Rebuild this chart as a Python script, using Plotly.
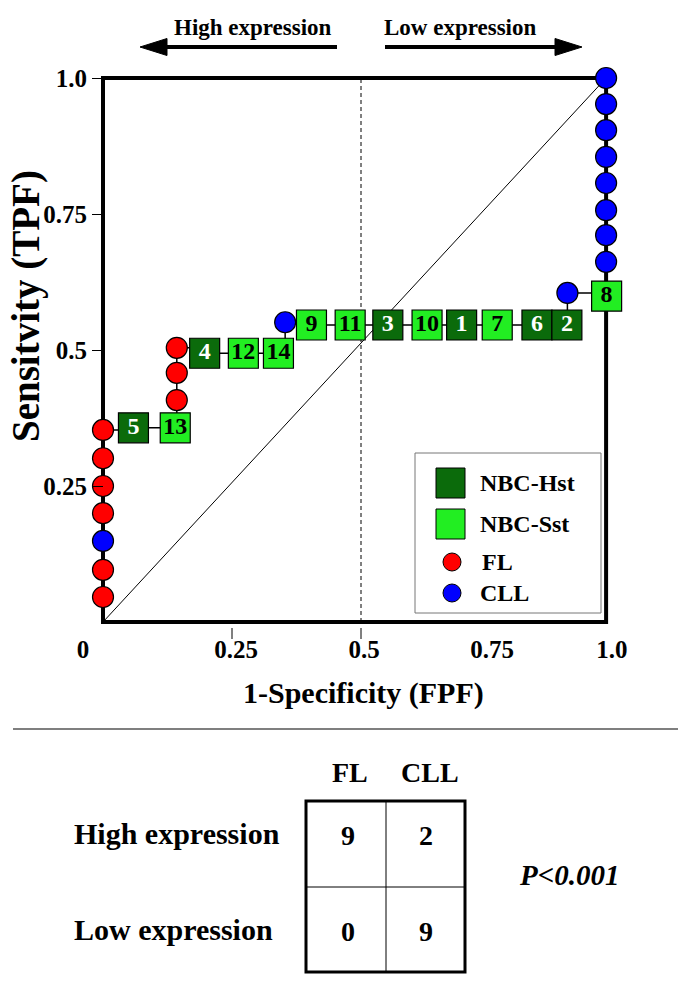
import plotly.graph_objects as go

W, H = 685, 989
FONT = "Liberation Serif, Times New Roman, serif"

# ---------------- data ----------------
# ROC path points (1-specificity, sensitivity) in drawing order
roc_fpf = [0, 0, 0, 0, 0, 0, 0,
           0.059, 0.140,
           0.143, 0.143, 0.143,
           0.197, 0.272, 0.340,
           0.353,
           0.404, 0.479, 0.552, 0.628, 0.695, 0.764, 0.841, 0.899,
           0.900,
           0.976,
           0.975, 0.975, 0.975, 0.975, 0.975, 0.975, 0.975, 0.975]
roc_tpf = [0.046, 0.096, 0.149, 0.200, 0.250, 0.301, 0.353,
           0.357, 0.357,
           0.408, 0.458, 0.504,
           0.494, 0.494, 0.494,
           0.551,
           0.546, 0.546, 0.546, 0.546, 0.546, 0.546, 0.546, 0.546,
           0.605,
           0.599,
           0.662, 0.711, 0.757, 0.807, 0.855, 0.904, 0.952, 1.0]
roc_group = ["FL", "FL", "CLL", "FL", "FL", "FL", "FL",
             "NBC-Hst", "NBC-Sst",
             "FL", "FL", "FL",
             "NBC-Hst", "NBC-Sst", "NBC-Sst",
             "CLL",
             "NBC-Sst", "NBC-Sst", "NBC-Hst", "NBC-Sst", "NBC-Hst", "NBC-Sst", "NBC-Hst", "NBC-Hst",
             "CLL",
             "NBC-Sst",
             "CLL", "CLL", "CLL", "CLL", "CLL", "CLL", "CLL", "CLL"]
roc_label = ["", "", "", "", "", "", "",
             "5", "13",
             "", "", "",
             "4", "12", "14",
             "",
             "9", "11", "3", "10", "1", "7", "6", "2",
             "",
             "8",
             "", "", "", "", "", "", "", ""]

legend_names = ["NBC-Hst", "NBC-Sst", "FL", "CLL"]

y_tickvals = [0.25, 0.5, 0.75, 1.0]
y_ticktext = ["0.25", "0.5", "0.75", "1.0"]
x_ticktext = ["0", "0.25", "0.5", "0.75", "1.0"]

table_cols = ["FL", "CLL"]
table_rows = ["High expression", "Low expression"]
table_counts = [[9, 2], [0, 9]]
p_text = "P&lt;0.001"

# ---------------- styling ----------------
DARK = "#0B6B0B"
LIGHT = "#22EE22"
style = {
    "NBC-Hst": dict(symbol="square", color=DARK, size=30, text="white"),
    "NBC-Sst": dict(symbol="square", color=LIGHT, size=30, text="black"),
    "FL": dict(symbol="circle", color="#FF0000", size=21, text="black"),
    "CLL": dict(symbol="circle", color="#0000FF", size=21, text="black"),
}

# pixel geometry of the plot frame
X0, XS = 103, 516   # pixel of x=0, pixels per unit
Y0, YS = 622, 544   # pixel of y=0, pixels per unit
BOX_R = 0.975       # right edge of the drawn frame (data units)


def px(x):
    return x / W


def py(y):
    return 1 - y / H


def dx(v):
    return (X0 + v * XS) / W


def dy(v):
    return 1 - (Y0 - v * YS) / H


fig = go.Figure()

# connecting path
fig.add_trace(go.Scatter(x=roc_fpf, y=roc_tpf, mode="lines",
                         line=dict(color="black", width=1.5, shape="hv"),
                         hoverinfo="skip", showlegend=False, cliponaxis=False))

for g in ["FL", "CLL", "NBC-Hst", "NBC-Sst"]:
    idx = [i for i, gg in enumerate(roc_group) if gg == g]
    s = style[g]
    fig.add_trace(go.Scatter(
        x=[roc_fpf[i] for i in idx], y=[roc_tpf[i] for i in idx],
        text=[roc_label[i] for i in idx],
        mode="markers+text", textposition="middle center",
        textfont=dict(family=FONT, size=24, color=s["text"], weight="bold"),
        marker=dict(symbol=s["symbol"], size=s["size"], color=s["color"],
                    line=dict(color="black", width=1.2)),
        name=g, showlegend=False, cliponaxis=False))

shapes = []
# frame
shapes.append(dict(type="rect", xref="paper", yref="paper",
                   x0=dx(0), x1=dx(BOX_R), y0=dy(0), y1=dy(1),
                   line=dict(color="black", width=4), layer="below"))
# diagonal
shapes.append(dict(type="line", xref="paper", yref="paper",
                   x0=dx(0), y0=dy(0), x1=dx(BOX_R), y1=dy(1),
                   line=dict(color="black", width=1), layer="below"))
# dashed 0.5
shapes.append(dict(type="line", xref="paper", yref="paper",
                   x0=dx(0.5), y0=dy(0), x1=dx(0.5), y1=dy(1),
                   line=dict(color="black", width=1, dash="4px,3px"), layer="below"))
# x tick marks
for v in [0.25, 0.5]:
    shapes.append(dict(type="line", xref="paper", yref="paper",
                       x0=dx(v), x1=dx(v), y0=py(628), y1=py(639),
                       line=dict(color="black", width=1)))

# top arrows
def arrow(tail, tip, yv):
    d = 1 if tip > tail else -1
    base = tip - d * 27
    shapes.append(dict(type="line", xref="paper", yref="paper",
                       x0=px(tail), x1=px(base + d * 2), y0=py(yv), y1=py(yv),
                       line=dict(color="black", width=4)))
    path = "M {},{} L {},{} L {},{} Z".format(px(tip), py(yv), px(base), py(yv - 8.5),
                                             px(base), py(yv + 8.5))
    shapes.append(dict(type="path", xref="paper", yref="paper", path=path,
                       fillcolor="black", line=dict(color="black", width=1)))


arrow(337, 140, 47)
arrow(385, 582, 47)

# legend
shapes.append(dict(type="rect", xref="paper", yref="paper",
                   x0=px(415), x1=px(601), y0=py(453), y1=py(613),
                   line=dict(color="#777777", width=1), fillcolor="white"))
leg_y = [483, 524, 562, 593]
for name, yv in zip(legend_names, leg_y):
    s = style[name]
    if s["symbol"] == "square":
        shapes.append(dict(type="rect", xref="paper", yref="paper",
                           x0=px(436), x1=px(465), y0=py(yv - 15), y1=py(yv + 15),
                           fillcolor=s["color"], line=dict(color="black", width=1)))
    else:
        shapes.append(dict(type="circle", xref="paper", yref="paper",
                           x0=px(443), x1=px(461), y0=py(yv - 9), y1=py(yv + 9),
                           fillcolor=s["color"], line=dict(color="black", width=1)))

# separator
shapes.append(dict(type="line", xref="paper", yref="paper",
                   x0=px(13), x1=px(678), y0=py(729), y1=py(729),
                   line=dict(color="#555555", width=1.5)))

# table
TL, TR, TT, TB, TMX, TMY = 306, 465, 801, 972, 386, 887
shapes.append(dict(type="rect", xref="paper", yref="paper",
                   x0=px(TL), x1=px(TR), y0=py(TT), y1=py(TB),
                   line=dict(color="black", width=3)))
shapes.append(dict(type="line", xref="paper", yref="paper",
                   x0=px(TMX), x1=px(TMX), y0=py(TT), y1=py(TB),
                   line=dict(color="black", width=1)))
shapes.append(dict(type="line", xref="paper", yref="paper",
                   x0=px(TL), x1=px(TR), y0=py(TMY), y1=py(TMY),
                   line=dict(color="black", width=1)))

ann = []


def text(t, x, y, size, xanchor="center", angle=0, italic=False):
    ann.append(dict(text=t, x=px(x), y=py(y), xref="paper", yref="paper",
                    xanchor=xanchor, yanchor="middle", showarrow=False,
                    textangle=angle,
                    font=dict(family=FONT, size=size, color="black", weight="bold",
                              style="italic" if italic else "normal")))


text("High expression", 253, 28, 23)
text("Low expression", 460, 28, 23)
text("Sensitvity (TPF)", 26, 306, 39, angle=-90)
text("1-Specificity (FPF)", 363, 693, 30)
legend_x = [478, 478, 480, 478]
for name, xv, yv in zip(legend_names, legend_x, leg_y):
    text(name, xv, yv, 24, xanchor="left")

col_x = [(TL + TMX) / 2 + 2, (TMX + TR) / 2]
row_y = [835, 931]
text(table_cols[0], 350, 772, 28)
text(table_cols[1], 430, 772, 28)
for r, lab in enumerate(table_rows):
    text(lab, 72, [833, 929][r], 30, xanchor="left")
    for c in range(2):
        text(str(table_counts[r][c]), col_x[c], row_y[r], 28)
text(p_text, 569, 875, 29, italic=True)

x_range = [(10 - X0) / XS, (681 - X0) / XS]
y_range = [0, (Y0 - 40) / YS]

fig.update_layout(
    width=W, height=H, margin=dict(l=0, r=0, t=0, b=0),
    paper_bgcolor="white", plot_bgcolor="rgba(0,0,0,0)",
    showlegend=False, shapes=shapes, annotations=ann,
    xaxis=dict(domain=[10 / W, 681 / W], range=x_range, showgrid=False,
               zeroline=False, showline=False, ticks="",
               tickvals=[-0.039, 0.258, 0.506, 0.754, 0.986], ticktext=x_ticktext,
               tickfont=dict(family=FONT, size=25, color="black", weight="bold"),
               ticklabelstandoff=10, fixedrange=True),
    yaxis=dict(domain=[1 - Y0 / H, 1 - 40 / H], range=y_range, showgrid=False,
               zeroline=False, showline=False, anchor="free", position=X0 / W,
               ticks="outside", ticklen=11, tickwidth=1, tickcolor="black",
               tickvals=y_tickvals, ticktext=y_ticktext,
               tickfont=dict(family=FONT, size=25, color="black", weight="bold"),
               fixedrange=True),
)

fig.write_html("out.html", config={"displayModeBar": False},
               post_script="document.body.style.margin='0px';")
